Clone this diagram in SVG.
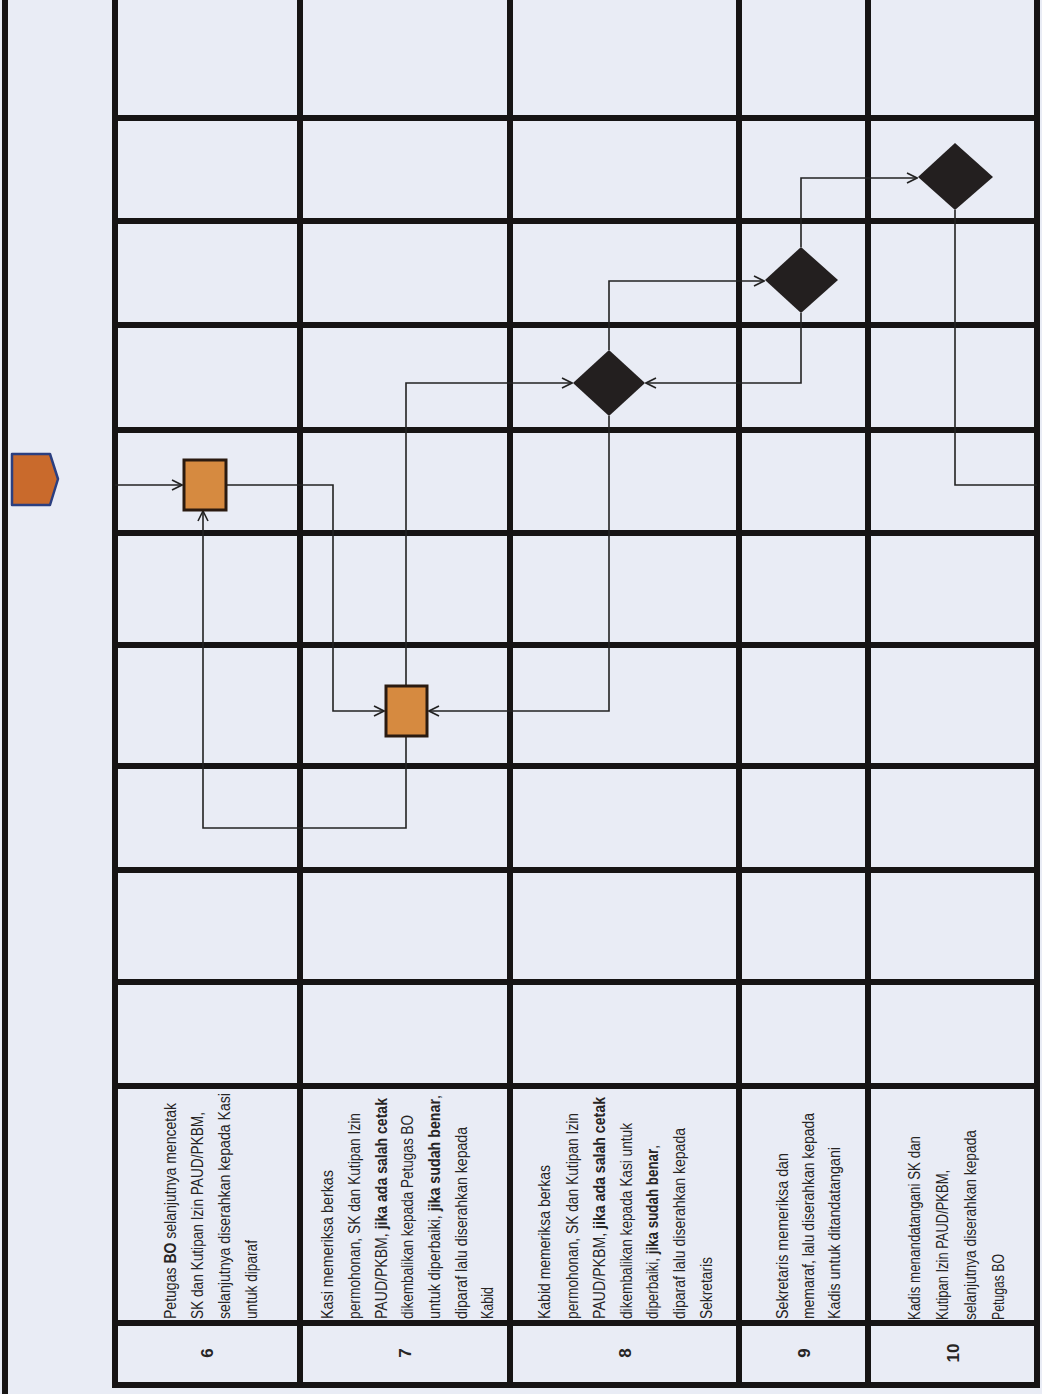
<svg xmlns="http://www.w3.org/2000/svg" width="1042" height="1394" viewBox="0 0 1042 1394">
<style>
.grid{stroke:#161414;stroke-width:6;fill:none;stroke-linecap:square}
.t{font-family:"Liberation Sans",Arial,sans-serif;font-size:16.5px;fill:#262424}
.b{font-weight:bold}
.n{font-family:"Liberation Sans",Arial,sans-serif;font-size:17px;font-weight:bold;fill:#262424;text-anchor:middle}
.c{stroke:#222;stroke-width:1.6;fill:none}
.sq{fill:#d68a40;stroke:#2a1a10;stroke-width:3}
.dm{fill:#231f1f}
</style>
<defs>
<marker id="ah" viewBox="0 0 12 12" refX="11" refY="6" markerWidth="12" markerHeight="12" markerUnits="userSpaceOnUse" orient="auto">
<path d="M1,1 L11,6 L1,11" fill="none" stroke="#222" stroke-width="1.6"/>
</marker>
</defs>
<rect width="1042" height="1394" fill="#e9ecf5"/>
<g id="grid">
<line class="grid" x1="5" y1="0" x2="5" y2="1394"/>
<line class="grid" x1="115" y1="0" x2="115" y2="1385"/>
<line class="grid" x1="300" y1="0" x2="300" y2="1385"/>
<line class="grid" x1="510" y1="0" x2="510" y2="1385"/>
<line class="grid" x1="739" y1="0" x2="739" y2="1385"/>
<line class="grid" x1="868" y1="0" x2="868" y2="1385"/>
<line class="grid" x1="1037" y1="0" x2="1037" y2="1385"/>
<line class="grid" x1="115" y1="118" x2="1037" y2="118"/>
<line class="grid" x1="115" y1="221" x2="1037" y2="221"/>
<line class="grid" x1="115" y1="325" x2="1037" y2="325"/>
<line class="grid" x1="115" y1="430" x2="1037" y2="430"/>
<line class="grid" x1="115" y1="533" x2="1037" y2="533"/>
<line class="grid" x1="115" y1="645" x2="1037" y2="645"/>
<line class="grid" x1="115" y1="766" x2="1037" y2="766"/>
<line class="grid" x1="115" y1="870" x2="1037" y2="870"/>
<line class="grid" x1="115" y1="982" x2="1037" y2="982"/>
<line class="grid" x1="115" y1="1086" x2="1037" y2="1086"/>
<line class="grid" x1="115" y1="1323" x2="1037" y2="1323"/>
<line class="grid" x1="115" y1="1385" x2="1037" y2="1385"/>
</g>
<g id="row6">
<text class="n" transform="translate(213,1353) rotate(-90)">6</text>
<text class="t" transform="translate(176,1319) rotate(-90)" textLength="216" lengthAdjust="spacingAndGlyphs">Petugas <tspan class="b">BO</tspan> selanjutnya mencetak</text>
<text class="t" transform="translate(203,1319) rotate(-90)" textLength="207" lengthAdjust="spacingAndGlyphs">SK dan Kutipan Izin PAUD/PKBM,</text>
<text class="t" transform="translate(230,1319) rotate(-90)" textLength="226" lengthAdjust="spacingAndGlyphs">selanjutnya diserahkan kepada Kasi</text>
<text class="t" transform="translate(257,1319) rotate(-90)" textLength="79" lengthAdjust="spacingAndGlyphs">untuk diparaf</text>
</g>
<g id="row7">
<text class="n" transform="translate(411,1353) rotate(-90)">7</text>
<text class="t" transform="translate(333,1319) rotate(-90)" textLength="149" lengthAdjust="spacingAndGlyphs">Kasi memeriksa berkas</text>
<text class="t" transform="translate(360,1319) rotate(-90)" textLength="206" lengthAdjust="spacingAndGlyphs">permohonan, SK dan Kutipan Izin</text>
<text class="t" transform="translate(387,1319) rotate(-90)" textLength="221" lengthAdjust="spacingAndGlyphs">PAUD/PKBM, <tspan class="b">jika ada salah cetak</tspan></text>
<text class="t" transform="translate(413,1319) rotate(-90)" textLength="204" lengthAdjust="spacingAndGlyphs">dikembalikan kepada Petugas BO</text>
<text class="t" transform="translate(440,1319) rotate(-90)" textLength="224" lengthAdjust="spacingAndGlyphs">untuk diperbaiki, <tspan class="b">jika sudah benar</tspan>,</text>
<text class="t" transform="translate(467,1319) rotate(-90)" textLength="192" lengthAdjust="spacingAndGlyphs">diparaf lalu diserahkan kepada</text>
<text class="t" transform="translate(493,1319) rotate(-90)" textLength="32" lengthAdjust="spacingAndGlyphs">Kabid</text>
</g>
<g id="row8">
<text class="n" transform="translate(631,1353) rotate(-90)">8</text>
<text class="t" transform="translate(550,1319) rotate(-90)" textLength="154" lengthAdjust="spacingAndGlyphs">Kabid memeriksa berkas</text>
<text class="t" transform="translate(578,1319) rotate(-90)" textLength="206" lengthAdjust="spacingAndGlyphs">permohonan, SK dan Kutipan Izin</text>
<text class="t" transform="translate(605,1319) rotate(-90)" textLength="222" lengthAdjust="spacingAndGlyphs">PAUD/PKBM, <tspan class="b">jika ada salah cetak</tspan></text>
<text class="t" transform="translate(632,1319) rotate(-90)" textLength="196" lengthAdjust="spacingAndGlyphs">dikembalikan kepada Kasi untuk</text>
<text class="t" transform="translate(658,1319) rotate(-90)" textLength="174" lengthAdjust="spacingAndGlyphs">diperbaiki, <tspan class="b">jika sudah benar</tspan>,</text>
<text class="t" transform="translate(685,1319) rotate(-90)" textLength="191" lengthAdjust="spacingAndGlyphs">diparaf lalu diserahkan kepada</text>
<text class="t" transform="translate(712,1319) rotate(-90)" textLength="62" lengthAdjust="spacingAndGlyphs">Sekretaris</text>
</g>
<g id="row9">
<text class="n" transform="translate(810,1353) rotate(-90)">9</text>
<text class="t" transform="translate(788,1319) rotate(-90)" textLength="166" lengthAdjust="spacingAndGlyphs">Sekretaris memeriksa dan</text>
<text class="t" transform="translate(814,1319) rotate(-90)" textLength="206" lengthAdjust="spacingAndGlyphs">memaraf, lalu diserahkan kepada</text>
<text class="t" transform="translate(840,1319) rotate(-90)" textLength="172" lengthAdjust="spacingAndGlyphs">Kadis untuk ditandatangani</text>
</g>
<g id="row10">
<text class="n" transform="translate(959,1353) rotate(-90)">10</text>
<text class="t" transform="translate(920,1320) rotate(-90)" textLength="184" lengthAdjust="spacingAndGlyphs">Kadis menandatangani SK dan</text>
<text class="t" transform="translate(948,1320) rotate(-90)" textLength="150" lengthAdjust="spacingAndGlyphs">Kutipan Izin PAUD/PKBM,</text>
<text class="t" transform="translate(976,1320) rotate(-90)" textLength="190" lengthAdjust="spacingAndGlyphs">selanjutnya diserahkan kepada</text>
<text class="t" transform="translate(1004,1320) rotate(-90)" textLength="66" lengthAdjust="spacingAndGlyphs">Petugas BO</text>
</g>
<g id="offpage">
<path d="M12,454 H50 L58,479 L50,505 H12 Z" fill="#c96a2c" stroke="#2b3f80" stroke-width="2.5" stroke-linejoin="round"/>
</g>
<g id="connectors">
<path class="c" d="M115,485 H182" marker-end="url(#ah)"/>
<path class="c" d="M227,485 H333 V711 H384" marker-end="url(#ah)"/>
<path class="c" d="M406,737 V828 H203 V511" marker-end="url(#ah)"/>
<path class="c" d="M406,685 V383 H572" marker-end="url(#ah)"/>
<path class="c" d="M609,416 V711 H429" marker-end="url(#ah)"/>
<path class="c" d="M609,350 V281 H764" marker-end="url(#ah)"/>
<path class="c" d="M801,313 V383 H646" marker-end="url(#ah)"/>
<path class="c" d="M801,247 V178 H917" marker-end="url(#ah)"/>
<path class="c" d="M955,210 V485 H1037"/>
</g>
<g id="step6">
<rect class="sq" x="184" y="460" width="42" height="50"/>
</g>
<g id="step7">
<rect class="sq" x="386" y="686" width="41" height="50"/>
</g>
<g id="step8">
<path class="dm" d="M609,350 L645,383 L609,416 L573,383 Z"/>
</g>
<g id="step9">
<path class="dm" d="M801,247 L838,280 L801,313 L765,280 Z"/>
</g>
<g id="step10">
<path class="dm" d="M955,143 L993,177 L955,210 L918,177 Z"/>
</g>
</svg>
